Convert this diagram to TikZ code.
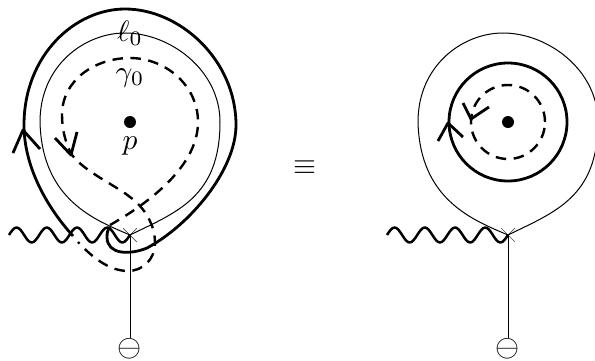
\documentclass[tikz,border=0pt]{standalone}
\usetikzlibrary{calc,shapes.misc}

\tikzset{
  thinline/.style={line width=1pt},
  thickline/.style={line width=2.8pt},
  dashline/.style={line width=2.4pt,dash pattern=on 10.5pt off 7.5pt},
  wavy/.style={line width=2.5pt},
  crossmark/.style={cross out,draw=black!70,line width=0.7pt,minimum size=13pt,inner sep=0pt},
  lbl/.style={scale=2.95,inner sep=0pt},
  sgn/.style={scale=3.1,inner sep=0pt},
  thinloop/.pic={
    \draw[thinline] (0,0) .. controls (-35,-15) and (-88,-35) .. (-90,-113)
      .. controls (-90,-170) and (-45,-202) .. (-5,-202)
      .. controls (40,-202) and (90,-165) .. (90,-113)
      .. controls (90,-38) and (47,-23) .. (0,0);
  }
}
\newcommand{\wavebit}{sin ++(7.56,-7.5) cos ++(7.56,7.5) sin ++(7.56,7.5) cos ++(7.56,-7.5)}

\begin{document}
\begin{tikzpicture}[x=1pt,y=-1pt,line join=round,line cap=butt]
  \useasboundingbox (0,0) rectangle (595,360);
  \coordinate (p) at (130,122);
  \coordinate (q) at (508,122);
  \node[crossmark] (xl) at (130,235) {};
  \node[crossmark] (xr) at (508,235) {};
  \node[sgn] (ml) at (130,349) {$\ominus$};
  \node[sgn] (mr) at (508,349) {$\ominus$};
  \coordinate (wl) at (9,235);
  \coordinate (wr) at (387,235);

  % left picture
  \pic at (xl.center) {thinloop};
  \draw[thickline] (73,236) .. controls (45,205) and (24,165) .. (24,125)
    .. controls (24,55) and (75,9) .. (125,9)
    .. controls (180,9) and (236,60) .. (236,125)
    .. controls (236,170) and (190,225) .. (147,248)
    .. controls (130,255) and (107,255) .. (107,237)
    .. controls (107,232) and (108,229) .. (110,227);
  \draw[dashline] (110,225) .. controls (140,208) and (198,170) .. (198,122)
    .. controls (198,85) and (165,58) .. (130,58)
    .. controls (95,58) and (62,80) .. (62,115)
    .. controls (62,130) and (66,145) .. (72,155)
    .. controls (85,172) and (115,185) .. (130,197)
    .. controls (145,208) and (155,225) .. (155,243)
    .. controls (155,260) and (142,271) .. (128,271)
    .. controls (108,271) and (90,255) .. (78,242);
  \draw[thickline] (13,153) -- (23,130) -- (40,149);
  \draw[thickline] (55,138) -- (71,155) -- (77,132);
  \draw[wavy] (wl) \wavebit \wavebit \wavebit \wavebit;
  \draw[thinline] (xl.center) -- (ml.north);
  \fill (p) circle (6pt);
  \node[lbl] (l0) at (130,33) {$\ell_0$};
  \node[lbl] (g0) at (130,78) {$\gamma_0$};
  \node[lbl] (pl) at (130,146) {$p$};

  \node[lbl] (eq) at (305,168) {$\equiv$};

  % right picture
  \pic at (xr.center) {thinloop};
  \draw[thickline] (q) circle (59pt);
  \draw[dashline] (q) circle (37pt);
  \draw[thickline] (438,141) -- (448,123) -- (463,137);
  \draw[thickline] (463,103) -- (471,119) -- (489,107);
  \draw[wavy] (wr) \wavebit \wavebit \wavebit \wavebit;
  \draw[thinline] (xr.center) -- (mr.north);
  \fill (q) circle (6pt);
\end{tikzpicture}
\end{document}
